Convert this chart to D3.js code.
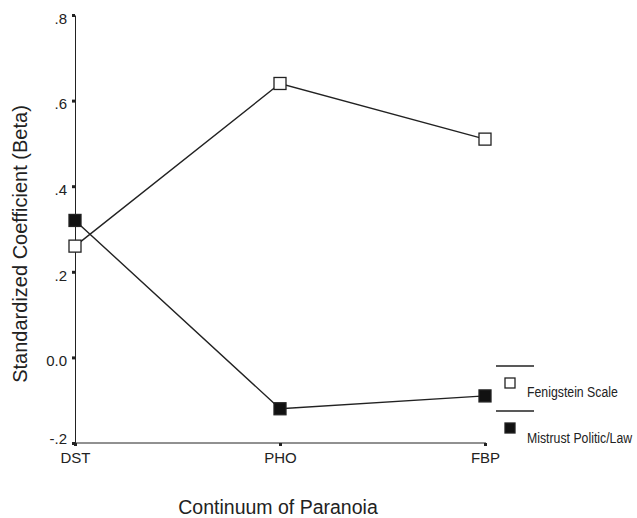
<!DOCTYPE html>
<html>
<head>
<meta charset="utf-8">
<script src="https://cdn.jsdelivr.net/npm/d3@7"></script>
<style>
  body { margin: 0; background: #fff; }
  svg { display: block; font-family: "Liberation Sans", Arial, sans-serif; }
  .axis path, .axis line { stroke: #222; }
  .axis text { font-size: 15px; fill: #222; }
</style>
</head>
<body>
<svg width="637" height="518"></svg>
<script>
// categories along the paranoia continuum
var stages = ["DST", "PHO", "FBP"];
// standardized betas per predictor
var fenigstein = [0.26, 0.64, 0.51];
var mistrust = [0.32, -0.12, -0.09];
var seriesNames = ["Fenigstein Scale", "Mistrust Politic/Law"];
// y ticks and their printed labels
var yTicks = [-0.2, 0, 0.2, 0.4, 0.6, 0.8];
var yTickLabels = ["-.2", "0.0", ".2", ".4", ".6", ".8"];

var svg = d3.select("svg");
var mLeft = 75, mRight = 485, mTop = 15, mBottom = 443;

var x = d3.scalePoint().domain(stages).range([mLeft, mRight]);
var y = d3.scaleLinear().domain([-0.2, 0.8]).range([mBottom, mTop]);

// y axis
var yAxis = svg.append("g").attr("class", "axis")
  .attr("transform", "translate(" + mLeft + ",0)")
  .call(d3.axisLeft(y).tickValues(yTicks).tickSize(3).tickSizeOuter(0)
    .tickFormat(function(d, i) { return yTickLabels[i]; }));
yAxis.selectAll(".tick line").attr("stroke-width", 3);
// bottom label sits a bit higher so it clears the x labels
yAxis.selectAll(".tick text").attr("x", -8)
  .attr("dy", function(d, i) { return i === 0 ? "0.05em" : "0.55em"; });

// x axis
var xAxis = svg.append("g").attr("class", "axis")
  .attr("transform", "translate(0," + mBottom + ")")
  .call(d3.axisBottom(x).tickSize(3).tickSizeOuter(0));
xAxis.select(".domain").attr("d", "M" + mLeft + ",0H" + (mRight + 1));
xAxis.selectAll(".tick line").attr("stroke-width", 3);
xAxis.selectAll(".tick text").attr("y", 9);

// axis titles
svg.append("text")
  .attr("transform", "translate(27,244) rotate(-90)")
  .attr("text-anchor", "middle")
  .style("font-size", "20px").style("fill", "#222")
  .text("Standardized Coefficient (Beta)");

svg.append("text")
  .attr("x", 278).attr("y", 514)
  .attr("text-anchor", "middle")
  .style("font-size", "19.5px").style("fill", "#222")
  .text("Continuum of Paranoia");

// lines + markers
var line = d3.line().x(function(d, i) { return x(stages[i]); }).y(function(d) { return y(d); });
var all = [fenigstein, mistrust];
var fills = ["#fff", "#111"];
var sz = 12;

all.forEach(function(s) {
  svg.append("path").datum(s)
    .attr("d", line)
    .attr("fill", "none").attr("stroke", "#222").attr("stroke-width", 1.4);
});
all.forEach(function(s, k) {
  svg.append("g").selectAll("rect").data(s).enter().append("rect")
    .attr("x", function(d, i) { return x(stages[i]) - sz / 2; })
    .attr("y", function(d) { return y(d) - sz / 2; })
    .attr("width", sz).attr("height", sz)
    .attr("fill", fills[k]).attr("stroke", "#222").attr("stroke-width", 1.3);
});

// legend
var lg = svg.append("g").attr("transform", "translate(496,366)");
seriesNames.forEach(function(name, k) {
  var g = lg.append("g").attr("transform", "translate(0," + (k * 45) + ")");
  g.append("line").attr("x1", 0).attr("x2", 38).attr("y1", 0).attr("y2", 0)
    .attr("stroke", "#222").attr("stroke-width", 1.3);
  g.append("rect").attr("x", 9).attr("y", 12).attr("width", 10).attr("height", 10)
    .attr("fill", fills[k]).attr("stroke", "#222").attr("stroke-width", 1.3);
  // condensed look of the original legend type
  g.append("text").attr("transform", "translate(31," + (31 + k * 0.5) + ") scale(0.82,1)")
    .style("font-size", "15px").style("fill", "#222")
    .text(name);
});
</script>
</body>
</html>
